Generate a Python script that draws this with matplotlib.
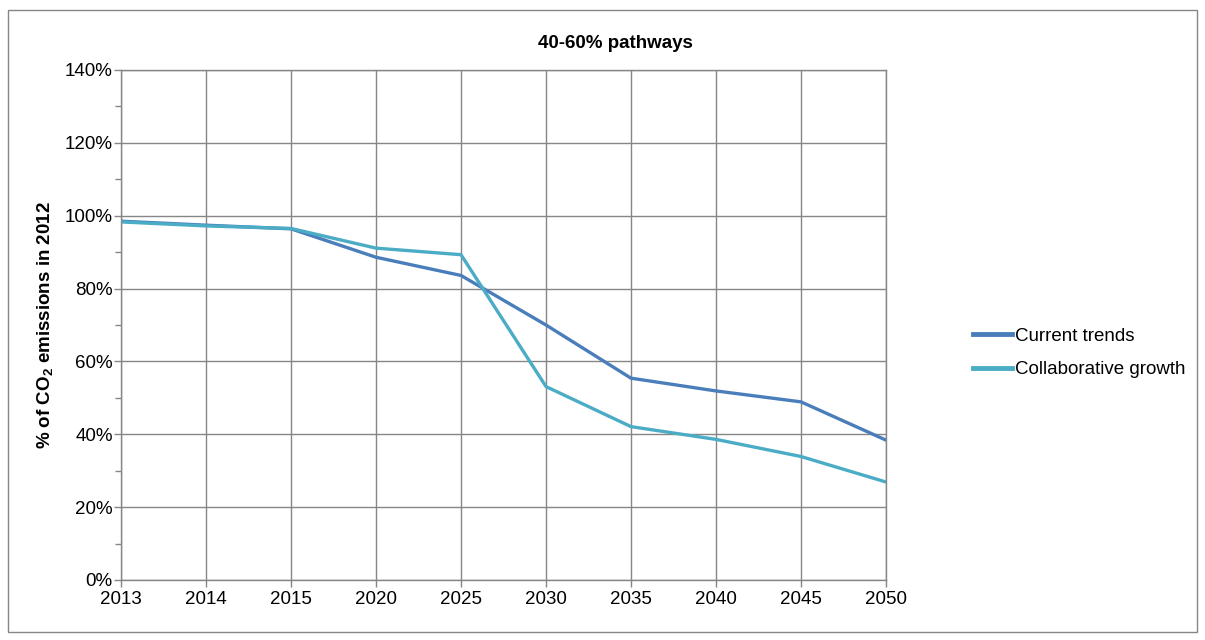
import matplotlib
matplotlib.use('Agg')
import matplotlib.pyplot as plt
from matplotlib.patches import Rectangle
from matplotlib.ticker import MultipleLocator, PercentFormatter

plt.rcParams['font.family'] = ['Liberation Sans', 'DejaVu Sans']
plt.rcParams['mathtext.fontset'] = 'custom'
plt.rcParams['mathtext.rm'] = 'Liberation Sans'
plt.rcParams['mathtext.bf'] = 'Liberation Sans:bold'

years = ['2013', '2014', '2015', '2020', '2025', '2030', '2035', '2040', '2045', '2050']
current_trends = [98.5, 97.4, 96.4, 88.6, 83.6, 70.0, 55.4, 51.9, 48.9, 38.4]
collab_growth = [98.3, 97.2, 96.5, 91.1, 89.3, 53.1, 42.1, 38.6, 33.9, 26.9]

grid_col = '#868686'
fs = 13.5

fig = plt.figure(figsize=(12.05, 6.4), dpi=100)
# chart area border
fig.patches.append(Rectangle((8 / 1205, 8 / 640), 1189 / 1205, 622 / 640,
                             transform=fig.transFigure, fill=False,
                             edgecolor='#868686', linewidth=1))

ax = fig.add_axes([121 / 1205, 60 / 640, 765 / 1205, 510 / 640])
x = range(len(years))
ax.plot(x, current_trends, color='#4a7ebb', linewidth=2.4, label='Current trends')
ax.plot(x, collab_growth, color='#4bacc6', linewidth=2.4, label='Collaborative growth')

ax.set_xlim(0, len(years) - 1)
ax.set_ylim(0, 140)
ax.set_xticks(list(x))
ax.set_xticklabels(years)
ax.yaxis.set_major_locator(MultipleLocator(20))
ax.yaxis.set_minor_locator(MultipleLocator(10))
ax.yaxis.set_major_formatter(PercentFormatter(decimals=0))
ax.grid(True, which='major', color=grid_col, linewidth=1)
ax.set_axisbelow(True)
for s in ax.spines.values():
    s.set_color(grid_col)
    s.set_linewidth(1)
ax.tick_params(which='both', direction='out', color=grid_col, labelsize=fs)
ax.tick_params(which='major', length=5, width=1, pad=3)
ax.tick_params(axis='y', which='major', pad=1)
ax.tick_params(which='minor', length=4, width=1)

ax.set_ylabel(r'% of CO$_\mathbf{2}$ emissions in 2012', fontsize=fs, fontweight='bold', labelpad=6)
fig.text(615 / 1205, 1 - 43 / 640, '40-60% pathways', fontsize=fs, fontweight='bold',
         ha='center', va='center')

leg = ax.legend(loc='center left', bbox_to_anchor=(973 / 1205, 1 - 353 / 640),
                bbox_transform=fig.transFigure, frameon=False, fontsize=fs,
                handlelength=2.1, handletextpad=0.15, labelspacing=0.85,
                borderpad=0, borderaxespad=0)
for h in leg.get_lines():
    h.set_linewidth(3.5)

fig.savefig('out.png', dpi=100)
